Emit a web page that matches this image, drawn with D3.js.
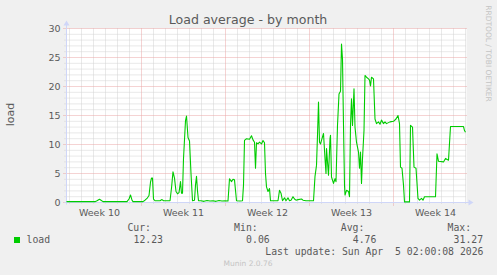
<!DOCTYPE html>
<html><head><meta charset="utf-8">
<script src="https://cdn.jsdelivr.net/npm/d3@7"></script>
<style>body{margin:0;background:#F0F0F0}svg{display:block}</style>
</head><body><svg id="c" width="497" height="275"></svg>
<script>
// Hours since start of graph (2026-03-02 18:00 UTC) and load values
const hours = [0,27,57,61,66,69,73,121,125,128,131,133,153,157,161,165,168,170,172,174,177,187,191,194,207,210,213,216,219,222,225,228,230,232,234,238,240,243,246,249,252,256,258,260,262,264,269,275,281,287,293,299,305,311,317,323,326,330,333,336,340,347,352,354,356,360,366,370,373,376,378,380,383,386,390,393,396,398,400,403,406,408,417,423,426,429,432,436,439,443,446,449,453,456,459,463,470,473,479,487,494,497,500,502,504,506,508,511,514,517,519,520,524,527,528,530,534,537,539,542,545,548,550,552,554,556,557,560,564,566,568,570,572,575,577,580,584,586,588,590,592,595,597,600,604,606,608,610,614,617,620,624,627,630,634,637,640,647,654,659,663,666,668,671,674,676,686,688,692,695,699,703,706,710,713,716,738,741,744,754,758,764,768,794,796,798];
const load = [0.15,0.15,0.15,0.3,0.55,0.4,0.15,0.15,0.6,1.3,0.4,0.15,0.15,0.4,0.7,1.2,3.5,4.2,4.2,0.6,0.3,0.3,0.5,0.3,0.3,2.5,5.3,4.2,1.9,1.5,1.7,3.6,1.6,1.6,7.6,14.1,14.9,11.2,10.6,5,0.3,0.4,3,4.5,2,0.3,0.3,0.2,0.35,0.25,0.3,0.2,0.35,0.25,0.3,0.25,4.1,3.6,4.0,3.9,0.3,0.25,0.3,3,10.7,11,10.9,11.5,10.8,10.4,5.9,10.3,10.1,10.4,10.1,10.7,10.3,5,2.7,1.9,2.4,0.3,0.3,0.3,2.1,1.6,0.3,0.8,0.3,0.8,0.3,0.4,1.0,0.6,0.4,0.5,0.6,0.4,0.3,0.3,0.3,4.5,6.4,11.6,17.3,10.4,10.1,11,11.9,7.6,5,9.3,4.7,11,11.6,4.4,3.3,4.1,3.6,13.3,18.7,19.2,27.3,24.7,13.3,3,1.3,2.1,1.9,1.0,13.3,17.9,13.3,19.6,13,10.4,8.7,5.9,8.7,3.3,7.6,12.4,21.9,21.6,21.3,21.1,20.1,21.6,21.3,14.4,13.6,13.9,13.5,14.2,13.6,13.9,13.6,13.9,14,14.4,15,13.6,6.1,5.9,3,0.1,0.1,13.3,13,6.1,5.9,0.7,0.4,0.7,0.4,1,1,8.4,7.1,7.0,7.6,7.3,13.1,13.1,12.4,12.1];
const yTicks = [0,5,10,15,20,25,30];
const legendHeaders = ["Cur:","Min:","Avg:","Max:"];
const legendValues = ["12.23","0.06","4.76","31.27"];
const seriesName = "load";
const title = "Load average - by month";
const lastUpdate = "Last update: Sun Apr  5 02:00:08 2026";

const start = new Date(Date.UTC(2026,2,2,18));
const end = new Date(Date.UTC(2026,3,5,2));
const svg = d3.select("#c");
const SANS = "DejaVu Sans, sans-serif", MONO = "DejaVu Sans Mono, monospace";
const FONT = "#5a5a5a";

const x = d3.scaleTime().domain([start,end]).range([66.5,466.5]);
const y = d3.scaleLinear().domain([0,30]).range([202.5,28.5]);
const X0 = 66.5, X1 = 466.5, Y0 = 202.5, Y1 = 28.5;

svg.append("rect").attr("width",497).attr("height",275).attr("fill","#F0F0F0");
svg.append("rect").attr("x",X0).attr("y",Y1).attr("width",X1-X0).attr("height",Y0-Y1).attr("fill","#FFFFFF");

const g = svg.append("g");
const MINC = "#d2d2d2", MAJC = "#eaa6a6";
// minor horizontal grid
const yMinor = d3.range(0,31,1).filter(v=>v%5!==0);
g.selectAll(".hm").data(yMinor).join("line")
 .attr("x1",X0-2).attr("x2",X1).attr("y1",d=>y(d)).attr("y2",d=>y(d))
 .attr("stroke",MINC).attr("stroke-dasharray","1,1");
// minor vertical grid (days)
const days = d3.utcDay.range(d3.utcDay.ceil(start), end).filter(d=>d.getUTCDay()!==1);
g.selectAll(".vm").data(days).join("line")
 .attr("x1",d=>x(d)).attr("x2",d=>x(d)).attr("y1",Y1).attr("y2",Y0+2)
 .attr("stroke",MINC).attr("stroke-dasharray","1,1");
// major horizontal
g.selectAll(".hM").data(yTicks).join("line")
 .attr("x1",X0-3).attr("x2",X1).attr("y1",d=>y(d)).attr("y2",d=>y(d))
 .attr("stroke",MAJC).attr("stroke-dasharray","1,1");
// major vertical (Mondays)
const mondays = d3.utcMonday.range(start,end);
g.selectAll(".vM").data(mondays).join("line")
 .attr("x1",d=>x(d)).attr("x2",d=>x(d)).attr("y1",Y1).attr("y2",Y0+3)
 .attr("stroke",MAJC).attr("stroke-dasharray","1,1");

// axes
const AX = "#CFD6F8";
svg.append("line").attr("x1",X0).attr("x2",X0).attr("y1",Y0+2).attr("y2",Y1-4).attr("stroke",AX);
svg.append("line").attr("x1",X0-2).attr("x2",X1+3).attr("y1",Y0).attr("y2",Y0).attr("stroke",AX);
svg.append("path").attr("d",`M${X0-3},${Y1-3}L${X0+3},${Y1-3}L${X0},${Y1-8}Z`).attr("fill",AX);
svg.append("path").attr("d",`M${X1+2},${Y0-3}L${X1+2},${Y0+3}L${X1+7},${Y0}Z`).attr("fill",AX);

// series
const pts = hours.map((h,i)=>[new Date(start.getTime()+h*3600e3), load[i]]);
svg.append("path").datum(pts)
 .attr("d", d3.line().x(d=>x(d[0])).y(d=>y(d[1])))
 .attr("fill","none").attr("stroke","#00CC00").attr("stroke-width",1.1).attr("stroke-linejoin","round");

// y tick labels
svg.selectAll(".yl").data(yTicks).join("text")
 .attr("x",60.5).attr("y",d=>y(d)+3.5).attr("text-anchor","end")
 .attr("font-family",SANS).attr("font-size",9.5).attr("fill",FONT).text(d=>d);
// week labels
const weekStarts = d3.utcMonday.range(d3.utcMonday.floor(start), end);
svg.selectAll(".wl").data(weekStarts).join("text")
 .attr("x",d=>x(new Date(d.getTime()+3.5*864e5))).attr("y",215.5).attr("text-anchor","middle")
 .attr("font-family",SANS).attr("font-size",9.5).attr("fill",FONT)
 .text(d=>"Week "+d3.utcFormat("%V")(d));

// title
svg.append("text").attr("x",248).attr("y",24).attr("text-anchor","middle")
 .attr("font-family",SANS).attr("font-size",12.6).attr("fill",FONT).text(title);
// y label
svg.append("text").attr("transform","translate(14,114.5) rotate(-90)").attr("text-anchor","middle")
 .attr("font-family",SANS).attr("font-size",11).attr("fill",FONT).text(seriesName);
// side text
svg.append("text").attr("transform","translate(485.5,53.5) rotate(90)").attr("text-anchor","middle")
 .attr("font-family",SANS).attr("font-size",7.5).attr("fill","#c4c4c4").text("RRDTOOL / TOBI OETIKER");

// legend
svg.selectAll(".lh").data(legendHeaders).join("text")
 .attr("x",(d,i)=>151+i*106.7).attr("y",230.7).attr("text-anchor","end")
 .attr("font-family",MONO).attr("font-size",9.8).attr("fill",FONT).text(d=>d);
svg.selectAll(".lv").data(legendValues).join("text")
 .attr("x",(d,i)=>163+i*106.7).attr("y",242.7).attr("text-anchor","end")
 .attr("font-family",MONO).attr("font-size",9.8).attr("fill",FONT).text(d=>d);
svg.append("rect").attr("x",14).attr("y",237).attr("width",6).attr("height",6).attr("fill","#00CC00");
svg.append("text").attr("x",26.5).attr("y",242.7)
 .attr("font-family",MONO).attr("font-size",9.8).attr("fill",FONT).text(seriesName);
svg.append("text").attr("x",483.5).attr("y",255).attr("text-anchor","end").attr("xml:space","preserve")
 .style("white-space","pre")
 .attr("font-family",MONO).attr("font-size",9.8).attr("fill",FONT).text(lastUpdate);
svg.append("text").attr("x",248).attr("y",266).attr("text-anchor","middle")
 .attr("font-family",SANS).attr("font-size",7.5).attr("fill","#c4c4c4").text("Munin 2.0.76");
</script>
</body></html>
